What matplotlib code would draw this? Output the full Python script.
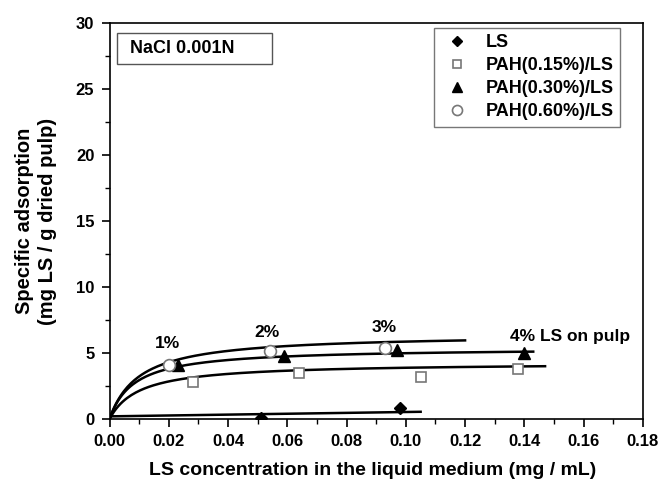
import numpy as np
import matplotlib
matplotlib.use("Agg")
import matplotlib.pyplot as plt
from matplotlib.ticker import MultipleLocator, FormatStrFormatter
from matplotlib.patches import Rectangle

plt.rcParams["font.family"] = ["Liberation Sans", "DejaVu Sans"]
plt.rcParams["font.weight"] = "bold"

# datos
ls_x = [0.051, 0.098]
ls_y = [0.05, 0.8]
pah15_x = [0.028, 0.064, 0.105, 0.138]
pah15_y = [2.8, 3.45, 3.2, 3.75]
pah30_x = [0.023, 0.059, 0.097, 0.140]
pah30_y = [4.1, 4.8, 5.25, 5.0]
pah60_x = [0.020, 0.054, 0.093]
pah60_y = [4.1, 5.15, 5.35]

# ajustes (Langmuir: qmax, K, x final) y recta para LS
fit_qmax = [4.27, 5.40, 6.45]
fit_K = [100, 120, 100]
fit_xmax = [0.147, 0.143, 0.120]
ls_fit = [0.2, 3.3, 0.105]  # intercepto, pendiente, x final

pct_labels = ["1%", "2%", "3%", "4% LS on pulp"]
pct_x = [0.0195, 0.053, 0.0928, 0.135]
pct_y = [5.75, 6.55, 6.9, 6.25]

fig = plt.figure(figsize=(6.6, 4.88), dpi=100)
ax = fig.add_axes([0.166, 0.1414, 0.808, 0.8116])

for q, k, xm in zip(fit_qmax, fit_K, fit_xmax):
    xx = np.linspace(0, xm, 200)
    ax.plot(xx, q * k * xx / (1 + k * xx), color="black", lw=1.8)
xx = np.linspace(0, ls_fit[2], 50)
ax.plot(xx, ls_fit[0] + ls_fit[1] * xx, color="black", lw=1.8)

gray = "#777777"
ax.plot(ls_x, ls_y, "D", color="black", ms=6.5, ls="none", label="LS")
ax.plot(pah15_x, pah15_y, "s", mfc="white", mec=gray, mew=1.2, ms=7.5, ls="none",
        label="PAH(0.15%)/LS")
ax.plot(pah30_x, pah30_y, "^", color="black", ms=8, ls="none", label="PAH(0.30%)/LS")
ax.plot(pah60_x, pah60_y, "o", mfc="white", mec=gray, mew=1.2, ms=8.5, ls="none",
        label="PAH(0.60%)/LS")

for t, x, y in zip(pct_labels, pct_x, pct_y):
    ha = "left" if t.startswith("4") else "center"
    ax.text(x, y, t, ha=ha, va="center", fontsize=12.5, fontweight="bold")

# caja NaCl
ax.add_patch(Rectangle((0.014, 0.897), 0.29, 0.078, transform=ax.transAxes,
                       fc="white", ec="#555555", lw=1, zorder=3))
ax.text(0.039, 0.936, "NaCl 0.001N", transform=ax.transAxes, fontsize=13,
        fontweight="bold", va="center", ha="left", zorder=4)

leg = ax.legend(loc="upper right", bbox_to_anchor=(0.957, 0.987), frameon=True,
                fancybox=False, edgecolor="#555555", fontsize=13, handletextpad=0.6,
                labelspacing=0.33, borderpad=0.35, markerscale=0.85, handlelength=1.9,
                borderaxespad=0)
leg.get_frame().set_linewidth(1)

ax.set_xlim(0, 0.18)
ax.set_ylim(0, 30)
ax.xaxis.set_major_locator(MultipleLocator(0.02))
ax.xaxis.set_minor_locator(MultipleLocator(0.01))
ax.yaxis.set_major_locator(MultipleLocator(5))
ax.yaxis.set_minor_locator(MultipleLocator(2.5))
ax.xaxis.set_major_formatter(FormatStrFormatter("%.2f"))
ax.tick_params(which="major", direction="out", length=6, width=1.2, labelsize=12, pad=5)
ax.tick_params(which="minor", direction="out", length=3.5, width=1)
for s in ax.spines.values():
    s.set_linewidth(1.2)

ax.set_xlabel("LS concentration in the liquid medium (mg / mL)", fontsize=14,
              fontweight="bold")
ax.set_ylabel("Specific adsorption\n(mg LS / g dried pulp)", fontsize=14.5,
              fontweight="bold", linespacing=1.3)
ax.xaxis.set_label_coords(0.494, -0.108)
ax.yaxis.set_label_coords(-0.098, 0.5)

fig.savefig("out.png", dpi=100)
